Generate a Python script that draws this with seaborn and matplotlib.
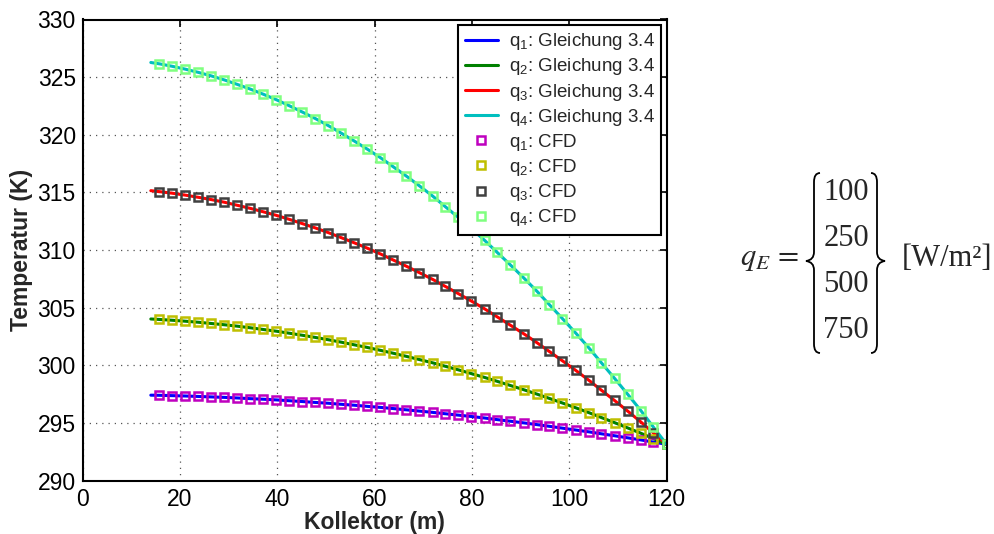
import numpy as np
import pandas as pd
import matplotlib
matplotlib.use("Agg")
import matplotlib.pyplot as plt
from matplotlib.path import Path
from matplotlib.patches import PathPatch
import seaborn as sns

# ---------------- data ----------------
x_cfd = [15.7, 18.4, 21.0, 23.7, 26.4, 29.1, 31.7, 34.4, 37.1, 39.8,
         42.4, 45.1, 47.8, 50.5, 53.1, 55.8, 58.5, 61.2, 63.8, 66.5,
         69.2, 71.9, 74.5, 77.2, 79.9, 82.6, 85.2, 87.9, 90.6, 93.3,
         95.9, 98.6, 101.3, 104.0, 106.6, 109.3, 112.0, 114.7, 117.3, 120.0]

q1_cfd = [297.40, 297.37, 297.34, 297.30, 297.26, 297.22, 297.17, 297.11, 297.06, 297.00,
          296.93, 296.86, 296.78, 296.71, 296.62, 296.54, 296.44, 296.35, 296.25, 296.14,
          296.03, 295.92, 295.80, 295.68, 295.56, 295.43, 295.29, 295.15, 295.01, 294.86,
          294.71, 294.55, 294.39, 294.23, 294.06, 293.89, 293.71, 293.53, 293.34, 293.15]
q2_cfd = [303.98, 303.91, 303.83, 303.74, 303.63, 303.52, 303.40, 303.26, 303.11, 302.96,
          302.79, 302.61, 302.42, 302.22, 302.01, 301.78, 301.55, 301.30, 301.05, 300.78,
          300.50, 300.22, 299.92, 299.61, 299.28, 298.95, 298.61, 298.25, 297.89, 297.51,
          297.13, 296.73, 296.32, 295.90, 295.47, 295.03, 294.57, 294.11, 293.64, 293.15]
q3_cfd = [315.07, 314.93, 314.77, 314.58, 314.38, 314.15, 313.89, 313.62, 313.32, 313.01,
          312.67, 312.30, 311.92, 311.51, 311.08, 310.63, 310.16, 309.66, 309.14, 308.60,
          308.04, 307.46, 306.85, 306.22, 305.57, 304.90, 304.20, 303.48, 302.75, 301.98,
          301.20, 300.39, 299.57, 298.71, 297.84, 296.95, 296.03, 295.09, 294.13, 293.15]
q4_cfd = [326.16, 325.94, 325.70, 325.42, 325.11, 324.76, 324.38, 323.97, 323.52, 323.04,
          322.53, 321.98, 321.41, 320.79, 320.15, 319.46, 318.75, 318.01, 317.23, 316.42,
          315.57, 314.69, 313.77, 312.83, 311.85, 310.84, 309.79, 308.71, 307.60, 306.45,
          305.27, 304.05, 302.81, 301.53, 300.22, 298.87, 297.49, 296.08, 294.63, 293.15]

# analytic curves (Gleichung 3.4): start point + same support points
x_eq_start = 14.0
q_eq_start = [297.41, 304.02, 315.15, 326.27]

series_names = ["q$_\\mathregular{1}$", "q$_\\mathregular{2}$",
                "q$_\\mathregular{3}$", "q$_\\mathregular{4}$"]
cfd_values = [q1_cfd, q2_cfd, q3_cfd, q4_cfd]
line_colors = ["#0000ff", "#008000", "#ff0000", "#00bfbf"]
marker_colors = ["#bf00bf", "#bfbf00", "#404040", "#80ff80"]

x_ticks = [0, 20, 40, 60, 80, 100, 120]
y_ticks = [290, 295, 300, 305, 310, 315, 320, 325, 330]
q_E_values = ["100", "250", "500", "750"]

# ---------------- style ----------------
sns.set_theme(style="white")
plt.rcParams["font.family"] = ["Liberation Sans", "DejaVu Sans"]
plt.rcParams["mathtext.fontset"] = "custom"
plt.rcParams["mathtext.rm"] = "Liberation Sans"
plt.rcParams["mathtext.it"] = "Liberation Sans:italic"

W, H = 995, 534
fig = plt.figure(figsize=(W / 100, H / 100), dpi=100)
ax = fig.add_axes([82.7 / W, 1 - 480.6 / H, (666.6 - 82.7) / W, (480.6 - 19.5) / H])

# lines
for name, vals, start, c in zip(series_names, cfd_values, q_eq_start, line_colors):
    df = pd.DataFrame({"x": [x_eq_start] + x_cfd, "T": [start] + vals})
    sns.lineplot(data=df, x="x", y="T", ax=ax, color=c, linewidth=2.2,
                 label=f"{name}: Gleichung 3.4", sort=False)

# CFD markers
for name, vals, c in zip(series_names, cfd_values, marker_colors):
    df = pd.DataFrame({"x": x_cfd, "T": vals})
    sns.lineplot(data=df, x="x", y="T", ax=ax, linestyle="", marker="s",
                 markersize=6, markerfacecolor="none", markeredgecolor=c,
                 markeredgewidth=1.8, label=f"{name}: CFD", sort=False)

ax.set_xlim(0, 120)
ax.set_ylim(290, 330)
ax.set_xticks(x_ticks)
ax.set_yticks(y_ticks)
ax.tick_params(direction="in", length=5, width=1.2, top=True, right=True,
               labelsize=16.5, colors="black", pad=5)
ax.grid(True, linestyle=(0, (1, 4)), color="#555555", linewidth=0.9)
for s in ax.spines.values():
    s.set_visible(True)
    s.set_linewidth(1.5)
    s.set_color("black")

ax.set_xlabel("Kollektor (m)", fontsize=16.5, fontweight="bold", labelpad=0)
ax.set_ylabel("Temperatur (K)", fontsize=16.5, fontweight="bold", labelpad=3)

leg = ax.legend(loc="upper right", fontsize=13.5, frameon=True, fancybox=False,
                framealpha=1, edgecolor="black", borderaxespad=0.28,
                handlelength=1.75, handletextpad=0.6, labelspacing=0.22,
                borderpad=0.35)
leg.get_frame().set_linewidth(1.5)

# ---------------- equation on the right ----------------
def fx(px):
    return px / W

def fy(py):
    return 1 - py / H

fig.text(fx(799), fy(258), r"$q_E\,=$", fontsize=22, ha="right", va="center",
         math_fontfamily="stix")
for val, yc in zip(q_E_values, [192, 238, 284, 330]):
    fig.text(fx(846), fy(yc), val, fontsize=22, ha="center", va="center",
             family=["Liberation Serif", "DejaVu Serif"])
fig.text(fx(902), fy(258), "[W/m²]", fontsize=22, ha="left", va="center",
         family=["Liberation Serif", "DejaVu Serif"])

def brace(xs, xtip, xhook, top, mid, bot):
    pts = [(xhook, top), (xs, top), (xs, top + 9),
           (xs, mid - 9), (xs, mid - 1), (xtip, mid),
           (xs, mid + 1), (xs, mid + 9),
           (xs, bot - 9), (xs, bot), (xhook, bot)]
    codes = [Path.MOVETO, Path.CURVE3, Path.CURVE3,
             Path.LINETO, Path.CURVE3, Path.CURVE3,
             Path.CURVE3, Path.CURVE3,
             Path.LINETO, Path.CURVE3, Path.CURVE3]
    verts = [(fx(a), fy(b)) for a, b in pts]
    fig.add_artist(PathPatch(Path(verts, codes), transform=fig.transFigure,
                             fill=False, edgecolor="black", linewidth=1.3))

brace(814, 806, 820, 173, 261, 353)
brace(877, 885, 871, 173, 261, 353)

fig.savefig("out.png", dpi=100)
